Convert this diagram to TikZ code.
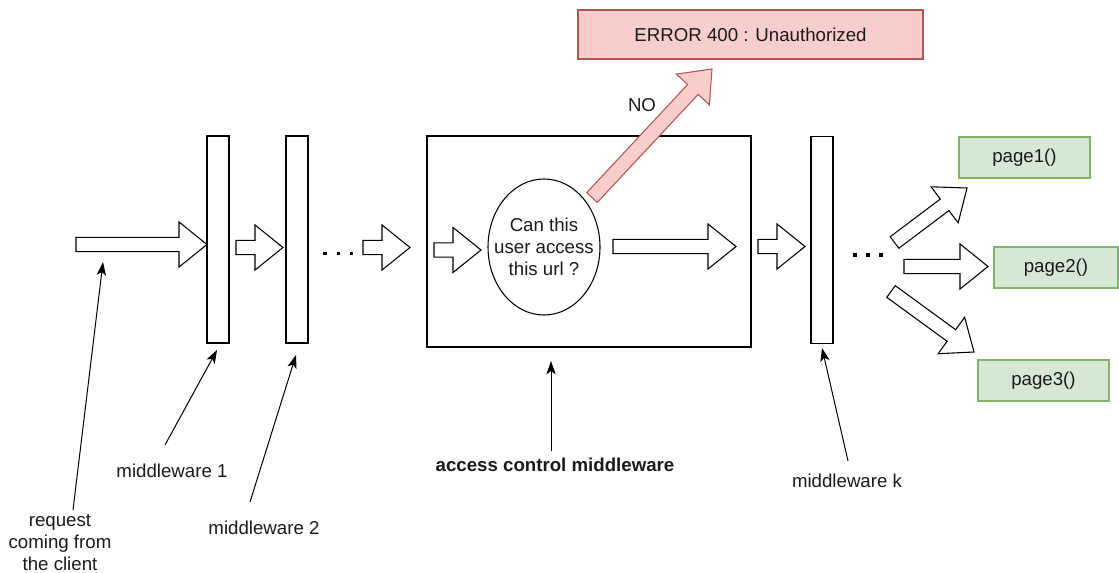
\documentclass[tikz,border=0pt]{standalone}
\usepackage{fontspec}
\setmainfont{Liberation Sans}
\usetikzlibrary{calc,arrows.meta,shapes.geometric}
\definecolor{errfill}{HTML}{F8CECC}
\definecolor{errline}{HTML}{B85450}
\definecolor{pgfill}{HTML}{D5E8D4}
\definecolor{pgline}{HTML}{82B366}
\definecolor{txt}{HTML}{1A1A1A}
\newcommand{\bkarrow}[3][]{%
  \coordinate (ba-h) at ($(#3)!21pt!(#2)$);
  \draw[bkarrowstyle,#1] ($(#2)!5.4pt!90:(#3)$) -- ($(ba-h)!5.4pt!90:(#3)$) -- ($(ba-h)!16.9pt!90:(#3)$) -- (#3) -- ($(ba-h)!16.9pt!-90:(#3)$) -- ($(ba-h)!5.4pt!-90:(#3)$) -- ($(#2)!5.4pt!-90:(#3)$) -- cycle;
}
\begin{document}
\begin{tikzpicture}[x=0.75pt,y=-0.75pt,
  every node/.style={font=\fontsize{14}{16.5}\selectfont, text=txt},
  bkarrowstyle/.style={draw=black, fill=white, line width=0.8pt, line join=miter},
  errarrow/.style={draw=errline, fill=errfill},
  mw/.style={draw=black, fill=white, line width=0.8pt, inner sep=0pt, outer sep=0pt, minimum width=16.5pt, minimum height=155.25pt},
  bigbox/.style={draw=black, line width=0.8pt, inner sep=0pt, minimum width=243pt, minimum height=158.25pt},
  errbox/.style={draw=errline, fill=errfill, line width=0.8pt, inner sep=0pt, minimum width=258.75pt, minimum height=36.75pt},
  pagebox/.style={draw=pgline, fill=pgfill, line width=0.8pt, inner sep=0pt, minimum height=30.75pt},
  qell/.style={ellipse, draw=black, line width=0.8pt, inner sep=0pt, minimum width=84pt, minimum height=102pt},
  lbl/.style={align=center, inner sep=0pt},
  lblarrow/.style={draw=black, line width=0.75pt, -{Stealth[length=10pt,width=7pt,inset=2.5pt]}},
  dot/.style={fill=black, draw=none}
]
\useasboundingbox (0,0) rectangle (1119,573);

% boxes
\node[bigbox] (acm) at (589,241.5) {};
\node[mw] (m1) at (218,239.5) {};
\node[mw] (m2) at (297,239.5) {};
\node[mw] (mk) at (822,240) {};
\node[qell] (q) at (544,247) {};
\node[lbl] (qt) at (q.center) {Can this\\user access\\this url ?};
\node[errbox] (err) at (750.5,34.5) {ERROR 400 : Unauthorized};
\node[pagebox, minimum width=98.25pt] (p1) at (1024.5,157.5) {page1()};
\node[pagebox, minimum width=93pt] (p2) at (1056,267.5) {page2()};
\node[pagebox, minimum width=98.25pt] (p3) at (1043.5,380.5) {page3()};

% block arrow end points
\coordinate (a0t) at (76,244.5);   \coordinate (a0h) at (207,244.5);
\coordinate (a1t) at (236,247.5);  \coordinate (a1h) at (283,247.5);
\coordinate (a2t) at (363,247.5);  \coordinate (a2h) at (410,247.5);
\coordinate (a3t) at (434,250);    \coordinate (a3h) at (481,250);
\coordinate (a4t) at (613,246.5);  \coordinate (a4h) at (736,246.5);
\coordinate (a5t) at (758,246.5);  \coordinate (a5h) at (805,246.5);
\coordinate (a6t) at (894.5,242.5);\coordinate (a6h) at (967,188);
\coordinate (a7t) at (904,266.5);  \coordinate (a7h) at (988,266.5);
\coordinate (a8t) at (891,291.5);  \coordinate (a8h) at (974,352);
\coordinate (nt) at (592,197.5);   \coordinate (nh) at (712,69);

\bkarrow{a0t}{a0h}
\bkarrow{a1t}{a1h}
\bkarrow{a2t}{a2h}
\bkarrow{a3t}{a3h}
\bkarrow{a4t}{a4h}
\bkarrow{a5t}{a5h}
\bkarrow{a6t}{a6h}
\bkarrow{a7t}{a7h}
\bkarrow{a8t}{a8h}
\bkarrow[errarrow]{nt}{nh}

\node[lbl] (no) at (642,105) {NO};

% dots
\foreach \x in {325,338.5,351.5} \fill[dot] (\x-1.8,251.7) rectangle (\x+1.8,255.3);
\foreach \x in {855,868,881} \fill[dot] (\x-1.8,253.2) rectangle (\x+1.8,256.8);

% labels
\node[lbl] (lreq) at (60,543) {request\\coming from\\the client};
\node[lbl] (lm1) at (172,471) {middleware 1};
\node[lbl] (lm2) at (264,528) {middleware 2};
\node[lbl, font=\fontsize{14}{16.5}\selectfont\bfseries] (lacm) at (555,465) {access control middleware};
\node[lbl] (lmk) at (847,481) {middleware k};

\coordinate (sreq) at (73,510);   \coordinate (ereq) at (103,262);
\coordinate (sm1) at (165,445);   \coordinate (em1) at (217,350);
\coordinate (sm2) at (250,502);   \coordinate (em2) at (296,355);
\coordinate (sacm) at (551,451);  \coordinate (eacm) at (551,361);
\coordinate (smk) at (848,461);   \coordinate (emk) at (822,348);

\draw[lblarrow] (sreq) -- (ereq);
\draw[lblarrow] (sm1) -- (em1);
\draw[lblarrow] (sm2) -- (em2);
\draw[lblarrow] (sacm) -- (eacm);
\draw[lblarrow] (smk) -- (emk);
\end{tikzpicture}
\end{document}
